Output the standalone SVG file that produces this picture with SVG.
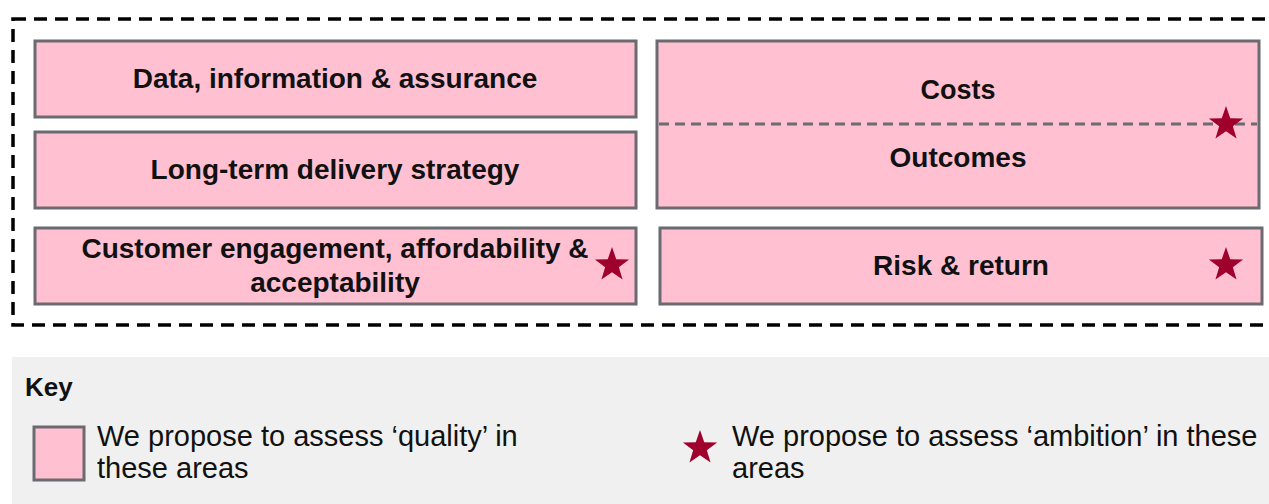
<svg xmlns="http://www.w3.org/2000/svg" xmlns:xlink="http://www.w3.org/1999/xlink" width="1269" height="504" viewBox="0 0 1269 504">
  <style>
    .area { fill: #ffc1d2; stroke: #6a6a70; stroke-width: 3; }
    .title { font-family: "Liberation Sans", Arial, sans-serif; font-size: 28px; font-weight: bold; fill: #111; text-anchor: middle; }
    .keytext { font-family: "Liberation Sans", Arial, sans-serif; font-size: 29px; fill: #111; }
    .keyhead { font-family: "Liberation Sans", Arial, sans-serif; font-size: 26px; font-weight: bold; fill: #111; }
    .star { fill: #a0002c; }
  </style>
  <defs>
    <path id="star" d="M0,-18 L4.23,-5.82 L17.12,-5.56 L6.85,2.22 L10.58,14.56 L0,7.2 L-10.58,14.56 L-6.85,2.22 L-17.12,-5.56 L-4.23,-5.82 Z"/>
  </defs>

  <!-- outer dashed boundary (right edge runs off the canvas) -->
  <rect x="13" y="19" width="1270" height="306" fill="none" stroke="#000" stroke-width="3.5" stroke-dasharray="13 8"/>

  <g id="data-information">
    <rect class="area" x="35" y="41" width="601" height="76"/>
    <text class="title" x="335" y="88">Data, information &amp; assurance</text>
  </g>

  <g id="delivery-strategy">
    <rect class="area" x="35" y="132" width="601" height="76"/>
    <text class="title" x="335" y="179">Long-term delivery strategy</text>
  </g>

  <g id="customer-engagement">
    <rect class="area" x="35" y="228" width="601" height="76"/>
    <text class="title" x="335" y="258">Customer engagement, affordability &amp;</text>
    <text class="title" x="335" y="292">acceptability</text>
    <use class="star" href="#star" x="612" y="265"/>
  </g>

  <g id="costs-outcomes">
    <rect class="area" x="657" y="41" width="602" height="167"/>
    <line x1="659" y1="124" x2="1257" y2="124" stroke="#6a6a70" stroke-width="3" stroke-dasharray="10 6"/>
    <text class="title" x="958" y="99" style="font-size:27px">Costs</text>
    <text class="title" x="958" y="167">Outcomes</text>
    <use class="star" href="#star" x="1226" y="124"/>
  </g>

  <g id="risk-return">
    <rect class="area" x="660" y="228" width="602" height="76"/>
    <text class="title" x="961" y="275">Risk &amp; return</text>
    <use class="star" href="#star" x="1226" y="265"/>
  </g>

  <g id="key">
    <rect x="12" y="357" width="1257" height="147" fill="#f0f0f0"/>
    <text class="keyhead" x="25" y="396">Key</text>
    <rect class="area" x="34" y="427" width="50" height="53"/>
    <text class="keytext" x="97" y="446">We propose to assess ‘quality’ in</text>
    <text class="keytext" x="97" y="478">these areas</text>
    <use class="star" href="#star" x="700" y="448"/>
    <text class="keytext" x="732" y="446">We propose to assess ‘ambition’ in these</text>
    <text class="keytext" x="732" y="478">areas</text>
  </g>
</svg>
